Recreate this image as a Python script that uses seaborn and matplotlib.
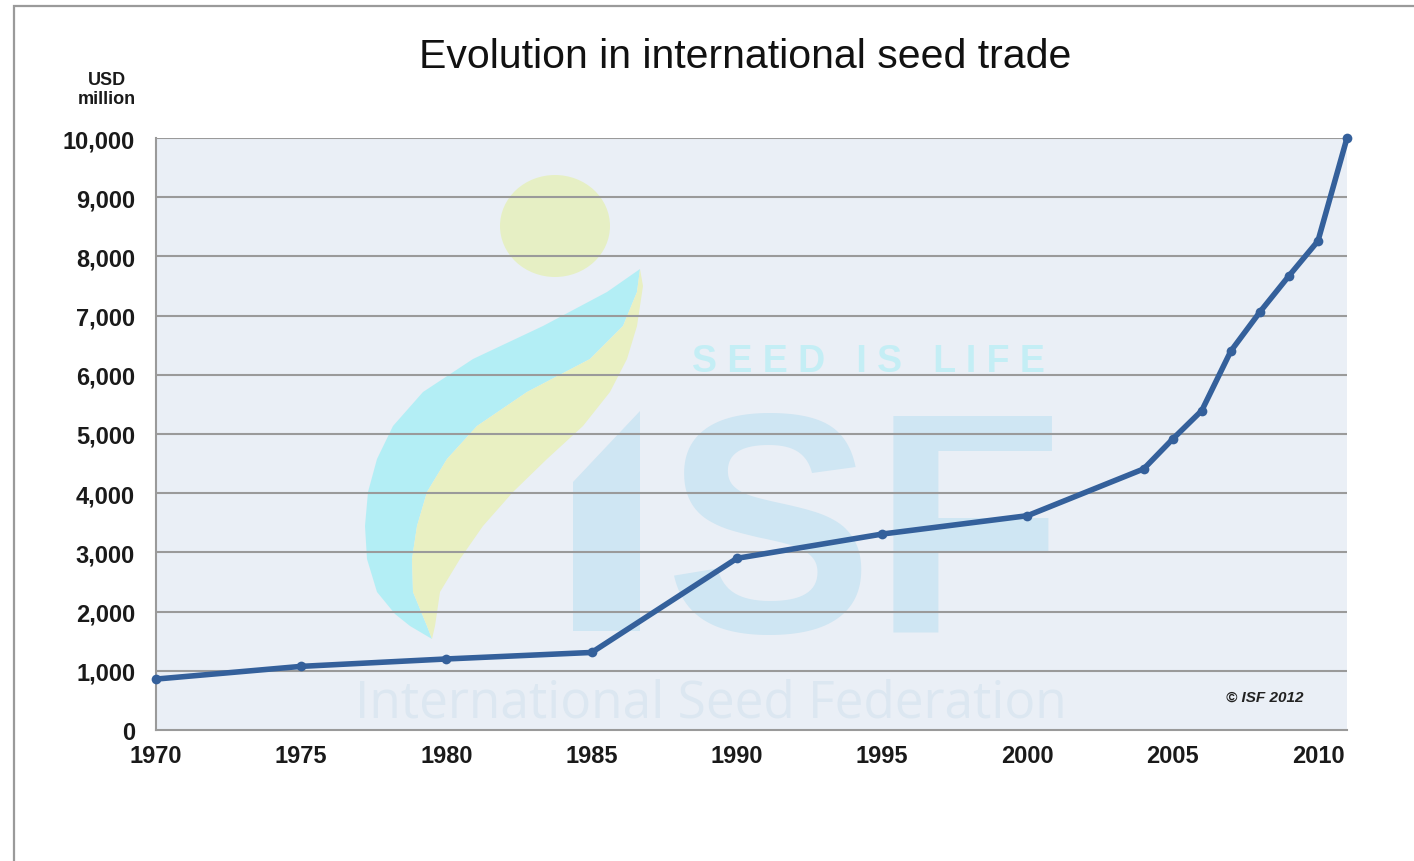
import numpy as np
import pandas as pd
import matplotlib.pyplot as plt
import seaborn as sns
from matplotlib.patches import Ellipse, Rectangle, Polygon

years = [1970, 1975, 1980, 1985, 1990, 1995, 2000, 2004, 2005, 2006, 2007, 2008, 2009, 2010, 2011]
trade = [860, 1075, 1200, 1310, 2900, 3310, 3620, 4410, 4915, 5395, 6400, 7060, 7670, 8260, 10000]
xticks = [1970, 1975, 1980, 1985, 1990, 1995, 2000, 2005, 2010]
yticks = list(range(0, 10001, 1000))

df = pd.DataFrame({"year": years, "trade": trade})

sns.set_style("white")
plt.rcParams['font.family'] = ['Liberation Sans', 'DejaVu Sans']

W, H = 1414, 862
fig = plt.figure(figsize=(W / 100, H / 100), dpi=100)
ax = fig.add_axes([156 / W, 1 - 731 / H, 1191 / W, 592 / H])
ax.set_facecolor('#eaeff6')

# outer frame of the slide
fig.patches.append(Rectangle((14 / W, -0.05), 1.2, 1.05 - 7 / H, transform=fig.transFigure,
                             fill=False, edgecolor='#9a9a9a', linewidth=1.6))


def axc(px, py):
    # pixel position -> axes fraction, only for the watermark
    return ((px - 156) / 1191, (731 - py) / 592)


# faint ISF watermark (logo)
ax.add_patch(Ellipse(axc(555, 227), 110 / 1191, 102 / 592, transform=ax.transAxes,
                     color='#e6efc4', zorder=0.5, lw=0))
cyan_outer = [(640, 270), (607, 293), (543, 327), (473, 360), (423, 393), (393, 427),
              (377, 460), (368, 493), (365, 527), (367, 560), (377, 593), (395, 615),
              (410, 627)]
mid_edge = [(432, 640), (427, 627), (413, 593), (412, 560), (417, 527), (427, 493),
            (447, 460), (477, 427), (527, 393), (590, 360), (623, 327), (637, 293),
            (640, 270)]
yellow_inner = [(643, 287), (637, 327), (627, 360), (610, 393), (583, 427), (547, 460),
                (513, 493), (483, 527), (460, 560), (440, 593), (435, 627), (432, 640)]
ax.add_patch(Polygon([axc(*p) for p in cyan_outer + mid_edge], closed=True,
                     transform=ax.transAxes, facecolor='#b3eef5', lw=0, zorder=0.6))
ax.add_patch(Polygon([axc(*p) for p in mid_edge + yellow_inner], closed=True,
                     transform=ax.transAxes, facecolor='#e9f0c2', lw=0, zorder=0.6))
ax.add_patch(Polygon([axc(*p) for p in [(573, 483), (640, 412), (640, 632), (573, 632)]],
                     closed=True, transform=ax.transAxes, facecolor='#cfe6f3', lw=0, zorder=0.7))
ax.text(*axc(865, 632), "SF", transform=ax.transAxes, ha='center', va='baseline',
        fontsize=225, fontweight='bold', color='#cfe6f3', zorder=0.7)
ax.text(*axc(868, 372), "S E E D   I S   L I F E", transform=ax.transAxes, ha='center',
        va='baseline', fontsize=27, fontweight='bold', color='#c4eef5', zorder=0.8)
ax.text(*axc(711, 704), "International Seed Federation", transform=ax.transAxes, ha='center',
        va='center', fontsize=37, family='Open Sans', color='#dce7f1', zorder=0.8)

for v in yticks[1:]:
    ax.axhline(v, color='#9a9a9a', lw=1.5, zorder=1)

sns.lineplot(data=df, x="year", y="trade", ax=ax, color='#34609b', lw=4,
             marker='o', markersize=7, markeredgewidth=0, zorder=3, clip_on=False)

ax.set_xlim(1970, 2011)
ax.set_ylim(0, 10000)
ax.set_xticks(xticks)
ax.set_yticks(yticks)
ax.set_yticklabels([f"{v:,}" for v in yticks])
ax.tick_params(axis='both', direction='out', length=7, width=1.2, color='#9a9a9a',
               labelsize=17)
ax.tick_params(axis='y', pad=8)
ax.tick_params(axis='x', pad=3)
for lab in ax.get_xticklabels() + ax.get_yticklabels():
    lab.set_fontweight('bold')
    lab.set_color('#1a1a1a')
ax.set_xlabel("")
ax.set_ylabel("")
for s in ['top', 'right']:
    ax.spines[s].set_visible(False)
for s in ['left', 'bottom']:
    ax.spines[s].set_color('#9a9a9a')
    ax.spines[s].set_linewidth(1.5)

fig.text(745 / W, 1 - 57 / H, "Evolution in international seed trade", ha='center', va='center',
         fontsize=29.5, color='#111111')
fig.text(107 / W, 1 - 90 / H, "USD\nmillion", ha='center', va='center', fontsize=13,
         fontweight='bold', linespacing=1.15, color='#1a1a1a')
ax.text(*axc(1265, 698), "© ISF 2012", transform=ax.transAxes, ha='center', va='center',
        fontsize=11, fontstyle='italic', fontweight='bold', color='#222222')

plt.savefig("out.png", dpi=100)
